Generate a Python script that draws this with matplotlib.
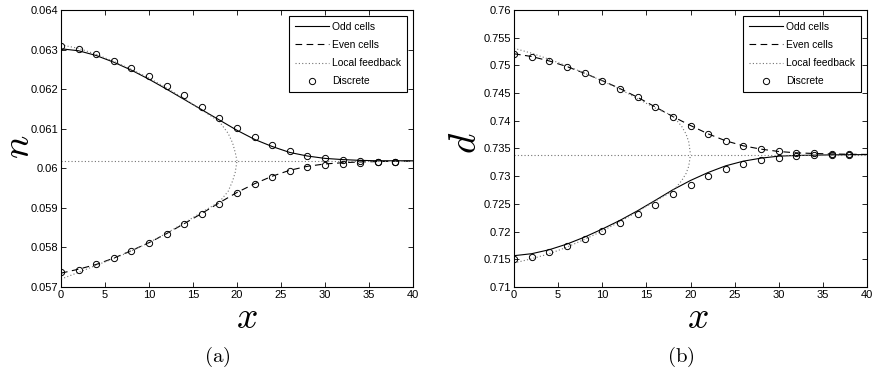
import numpy as np
import matplotlib
matplotlib.use("Agg")
from matplotlib import pyplot as plt

plt.rcParams['font.family'] = ['Liberation Sans', 'DejaVu Sans']
plt.rcParams['mathtext.fontset'] = 'cm'

# ---- data ----
x_line = [0, 2, 4, 6, 8, 10, 12, 14, 16, 18, 20, 22, 24, 26, 28, 30, 32, 34, 36, 38, 40]
x_disc = [0, 2, 4, 6, 8, 10, 12, 14, 16, 18, 20, 22, 24, 26, 28, 30, 32, 34, 36, 38]
x_fb = [0, 2, 4, 6, 8, 10, 12, 14, 16, 18, 19, 19.5, 19.8, 20]
x_eq = [0, 40]

# panel (a): n
n_odd_line = [0.06302, 0.06297, 0.06285, 0.06268, 0.06248, 0.06225, 0.06200, 0.06174, 0.06148,
              0.06122, 0.06096, 0.06073, 0.06055, 0.06040, 0.06031, 0.06025, 0.06022, 0.06020,
              0.06019, 0.06019, 0.06019]
n_even_line = [0.05735, 0.05745, 0.05757, 0.05773, 0.05792, 0.05812, 0.05835, 0.05860, 0.05886,
               0.05913, 0.05939, 0.05961, 0.05980, 0.05995, 0.06005, 0.06011, 0.06014, 0.06016,
               0.06017, 0.06018, 0.06018]
n_fb_up = [0.06312, 0.06303, 0.06288, 0.06270, 0.06250, 0.06228, 0.06203, 0.06176, 0.06147,
           0.06118, 0.06088, 0.06064, 0.06040, 0.06019]
n_fb_lo = [0.05720, 0.05737, 0.05755, 0.05772, 0.05791, 0.05812, 0.05836, 0.05862, 0.05889,
           0.05915, 0.05942, 0.05968, 0.05990, 0.06019]
n_eq = [0.06019, 0.06019]
n_disc_odd = [0.06310, 0.06302, 0.06289, 0.06272, 0.06254, 0.06232, 0.06209, 0.06184, 0.06156,
              0.06128, 0.06101, 0.06078, 0.06058, 0.06043, 0.06032, 0.06026, 0.06022, 0.06019,
              0.06017, 0.06016]
n_disc_even = [0.05737, 0.05744, 0.05757, 0.05773, 0.05790, 0.05810, 0.05833, 0.05858, 0.05884,
               0.05911, 0.05937, 0.05960, 0.05979, 0.05993, 0.06002, 0.06009, 0.06011, 0.06014,
               0.06015, 0.06016]

# panel (b): d
d_odd_line = [0.71565, 0.71601, 0.71673, 0.71775, 0.71901, 0.72046, 0.72202, 0.72376, 0.72563,
              0.72755, 0.72923, 0.73067, 0.73188, 0.73272, 0.73326, 0.73362, 0.73374, 0.73380,
              0.73385, 0.73388, 0.73390]
d_even_line = [0.75210, 0.75160, 0.75080, 0.74978, 0.74858, 0.74726, 0.74582, 0.74425, 0.74251,
               0.74077, 0.73915, 0.73764, 0.73638, 0.73548, 0.73488, 0.73446, 0.73422, 0.73410,
               0.73402, 0.73396, 0.73393]
d_fb_up = [0.75309, 0.75220, 0.75110, 0.74990, 0.74860, 0.74720, 0.74570, 0.74400, 0.74230,
           0.74090, 0.73900, 0.73760, 0.73620, 0.73390]
d_fb_lo = [0.71433, 0.71510, 0.71600, 0.71720, 0.71860, 0.72010, 0.72180, 0.72360, 0.72550,
           0.72730, 0.72920, 0.73050, 0.73180, 0.73390]
d_eq = [0.7339, 0.7339]
d_disc_even = [0.75207, 0.75159, 0.75080, 0.74978, 0.74858, 0.74726, 0.74582, 0.74425, 0.74251,
               0.74077, 0.73915, 0.73764, 0.73638, 0.73548, 0.73488, 0.73446, 0.73422, 0.73410,
               0.73404, 0.73404]
d_disc_odd = [0.71505, 0.71541, 0.71625, 0.71739, 0.71865, 0.72004, 0.72148, 0.72310, 0.72484,
              0.72670, 0.72839, 0.72995, 0.73127, 0.73223, 0.73295, 0.73337, 0.73362, 0.73374,
              0.73386, 0.73386]

n_ticks = [0.057, 0.058, 0.059, 0.060, 0.061, 0.062, 0.063, 0.064]
n_ticklabels = ['0.057', '0.058', '0.059', '0.06', '0.061', '0.062', '0.063', '0.064']
d_ticks = [0.71, 0.715, 0.72, 0.725, 0.73, 0.735, 0.74, 0.745, 0.75, 0.755, 0.76]
d_ticklabels = ['0.71', '0.715', '0.72', '0.725', '0.73', '0.735', '0.74', '0.745', '0.75',
                '0.755', '0.76']
x_ticks = [0, 5, 10, 15, 20, 25, 30, 35, 40]

fig = plt.figure(figsize=(8.72, 3.69), dpi=100)
W, H = 872, 369


def px_axes(l, t, r, b):
    return fig.add_axes([l / W, 1 - b / H, (r - l) / W, (b - t) / H])


ax1 = px_axes(61, 10, 413, 287)
ax2 = px_axes(514, 10, 867, 287)

lw = 0.8
dash = (6, 4)
fbcol = '0.45'


def draw(ax, odd_line, even_line, fb_up, fb_lo, eq, disc_a, disc_b, yl, ticks, labels, ylab,
         xlab_pos, ylab_pos):
    ax.plot(x_line, odd_line, color='k', lw=lw, label='Odd cells')
    ax.plot(x_line, even_line, color='k', lw=lw, dashes=dash, label='Even cells')
    ax.plot(x_fb, fb_up, color=fbcol, lw=lw, ls=(0, (1, 2)), label='Local feedback')
    ax.plot(x_fb, fb_lo, color=fbcol, lw=lw, ls=(0, (1, 2)))
    ax.plot(x_eq, eq, color=fbcol, lw=lw, ls=(0, (1, 2)))
    ax.plot(x_disc, disc_a, ls='none', marker='o', ms=4.5, mfc='none', mec='k', mew=0.7,
            label='Discrete')
    ax.plot(x_disc, disc_b, ls='none', marker='o', ms=4.5, mfc='none', mec='k', mew=0.7)
    ax.set_xlim(0, 40)
    ax.set_ylim(*yl)
    ax.set_xticks(x_ticks)
    ax.set_yticks(ticks)
    ax.set_yticklabels(labels)
    ax.tick_params(direction='in', top=True, right=True, length=3.5, width=0.6,
                   labelsize=8, pad=2)
    for s in ax.spines.values():
        s.set_linewidth(0.8)
    leg = ax.legend(loc='upper right', fontsize=7.4, frameon=True, fancybox=False,
                    edgecolor='k', framealpha=1, handlelength=3.3, borderaxespad=0.6,
                    labelspacing=0.8, handletextpad=0.35, borderpad=0.55)
    leg.get_frame().set_linewidth(0.8)
    ax.set_xlabel(r'$x$', fontsize=27, va='center')
    ax.set_ylabel(ylab, fontsize=28, va='center')
    ax.xaxis.set_label_coords(*xlab_pos)
    ax.yaxis.set_label_coords(*ylab_pos)


draw(ax1, n_odd_line, n_even_line, n_fb_up, n_fb_lo, n_eq, n_disc_odd, n_disc_even,
     (0.057, 0.064), n_ticks, n_ticklabels, r'$n$', ((247 - 61) / 352, (287 - 318) / 277),
     ((19 - 61) / 352, (287 - 147) / 277))
draw(ax2, d_odd_line, d_even_line, d_fb_up, d_fb_lo, d_eq, d_disc_even, d_disc_odd,
     (0.71, 0.76), d_ticks, d_ticklabels, r'$d$', ((698 - 514) / 353, (287 - 318) / 277),
     ((466 - 514) / 353, (287 - 143) / 277))

fig.text(217 / W, 1 - 357 / H, r'$\mathrm{(a)}$', fontsize=15, ha='center', va='center')
fig.text(681 / W, 1 - 357 / H, r'$\mathrm{(b)}$', fontsize=15, ha='center', va='center')

fig.savefig('out.png', dpi=100)
